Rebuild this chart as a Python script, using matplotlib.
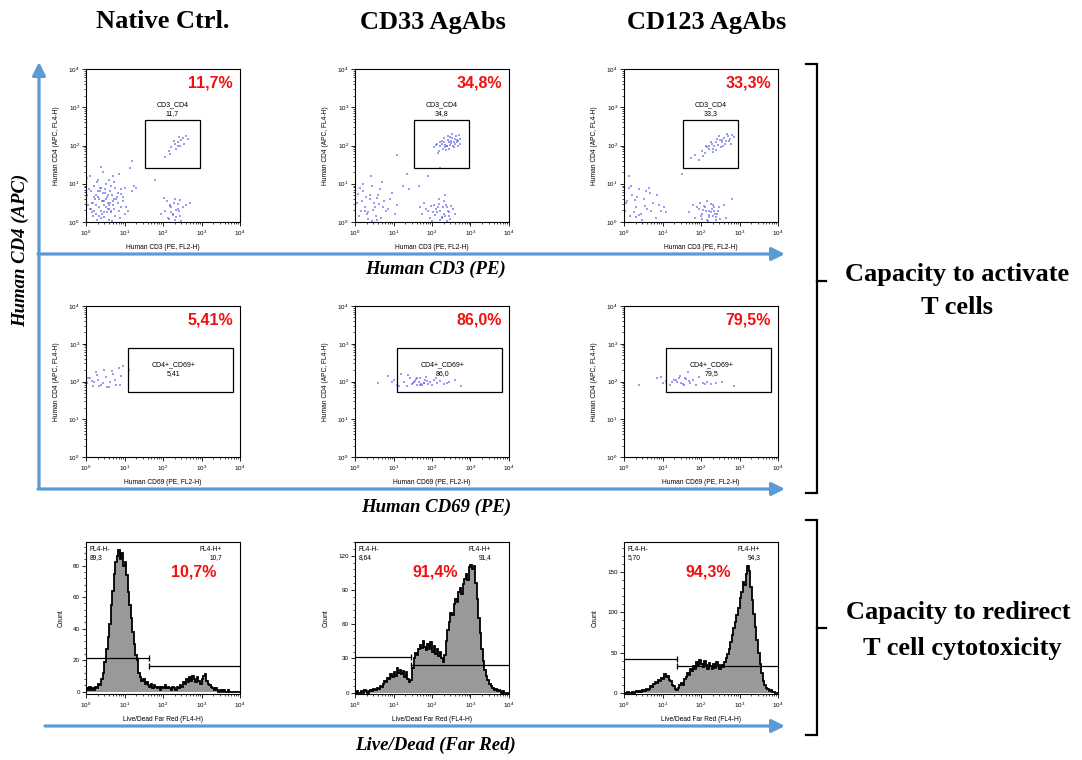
import numpy as np
import matplotlib.pyplot as plt
from matplotlib.patches import Rectangle
from matplotlib.ticker import (FixedLocator, FixedFormatter, LogLocator,
                               NullFormatter, AutoMinorLocator)

plt.rcParams['font.family'] = ['Liberation Sans', 'DejaVu Sans']
plt.rcParams['mathtext.fontset'] = 'custom'
plt.rcParams['mathtext.rm'] = 'Liberation Sans'

# ---------------- data ----------------
conditions = ["Native Ctrl.", "CD33 AgAbs", "CD123 AgAbs"]

# row 1: CD3 (x) vs CD4 (y) events, log10 units
native_cd3 = [0.05, 0.12, 0.20, 0.28, 0.35, 0.42, 0.50, 0.58, 0.65, 0.72,
              0.80, 0.88, 0.95, 1.05, 0.10, 0.18, 0.25, 0.33, 0.40, 0.48,
              0.55, 0.62, 0.70, 0.78, 0.85, 0.92, 1.00, 0.15, 0.22, 0.30,
              0.38, 0.45, 0.52, 0.60, 0.68, 0.75, 0.83, 0.90, 0.08, 0.16,
              0.24, 0.32, 0.39, 0.47, 0.54, 0.61, 0.69, 0.76, 0.03, 0.11,
              0.19, 0.27, 0.36, 0.44, 0.51, 0.57, 0.64, 0.73, 0.82, 1.10,
              0.26, 0.34, 0.41, 0.49, 0.56, 0.63, 0.71, 0.21, 0.29, 0.37,
              0.46, 0.53, 0.59, 0.66, 0.74, 0.43, 0.31, 1.25, 1.15, 0.95,
              0.02, 0.85, 1.20, 0.60, 0.40, 0.14, 0.67, 0.90, 1.02, 0.48,
              2.05, 2.12, 2.18, 2.25, 2.32, 2.38, 2.45, 2.52, 2.10, 2.20,
              2.28, 2.35, 2.42, 2.15, 2.22, 2.30, 2.40, 2.48, 1.95, 2.60,
              2.02, 2.33, 2.26, 2.44, 2.17,
              2.05, 2.15, 2.22, 2.30, 2.38, 2.45, 2.52, 2.60, 2.35, 2.48,
              2.55, 2.28, 2.42, 2.18, 2.65, 2.40,
              1.30, 1.20, 2.70, 1.80]
native_cd4 = [0.45, 0.80, 0.30, 1.05, 0.60, 0.20, 0.75, 0.50, 0.95, 0.35,
              0.65, 0.10, 0.55, 0.40, 1.20, 0.15, 0.70, 0.40, 0.90, 0.55,
              0.25, 0.80, 0.45, 0.60, 0.30, 0.85, 0.20, 0.50, 0.95, 0.65,
              0.10, 0.75, 1.00, 0.35, 0.70, 0.15, 0.50, 0.40, 0.85, 0.25,
              0.60, 1.10, 0.30, 0.45, 0.65, 0.05, 0.55, 0.90, 0.70, 0.35,
              0.50, 0.20, 0.80, 1.30, 0.40, 0.70, 0.25, 0.60, 0.75, 0.30,
              0.45, 0.15, 0.55, 0.85, 0.35, 0.50, 1.20, 0.65, 0.05, 0.90,
              0.25, 0.60, 0.45, 0.30, 1.05, 0.55, 0.80, 0.95, 1.40, 0.65,
              1.15, 1.25, 0.80, 1.10, 1.45, 0.35, 0.02, 0.72, 0.88, 0.12,
              0.30, 0.10, 0.45, 0.20, 0.05, 0.35, 0.15, 0.40, 0.55, 0.25,
              0.50, 0.12, 0.28, 0.08, 0.38, 0.60, 0.48, 0.02, 0.22, 0.45,
              0.62, 0.32, 0.18, 0.58, 0.42,
              1.70, 1.85, 1.95, 2.05, 2.10, 2.00, 2.20, 2.25, 1.90, 2.15,
              2.05, 2.12, 2.22, 1.78, 2.18, 1.98,
              0.90, 1.60, 0.50, 1.10]

cd33_cd3 = [0.05, 0.15, 0.22, 0.30, 0.38, 0.45, 0.52, 0.60, 0.68, 0.75,
            0.85, 0.95, 1.10, 0.10, 0.20, 0.28, 0.35, 0.42, 0.50, 0.58,
            0.65, 0.80, 0.90, 1.05, 0.12, 0.25, 0.40, 0.55, 0.70, 0.18,
            0.33, 0.48, 0.62, 1.25, 1.35, 0.08, 0.44, 0.72, 0.27, 0.58,
            1.75, 1.85, 1.95, 2.05, 2.12, 2.20, 2.28, 2.35, 2.42, 2.50,
            1.90, 2.00, 2.10, 2.18, 2.25, 2.32, 2.40, 2.48, 2.55, 1.80,
            2.08, 2.15, 2.22, 2.30, 2.38, 2.45, 1.98, 2.27, 2.36, 2.02,
            2.19, 2.43, 1.70, 2.60, 2.33,
            2.05, 2.12, 2.18, 2.22, 2.28, 2.32, 2.38, 2.42, 2.48, 2.52,
            2.58, 2.62, 2.68, 2.72, 2.25, 2.35, 2.45, 2.55, 2.65, 2.15,
            2.30, 2.40, 2.50, 2.60, 2.70, 2.20, 2.36, 2.46, 2.56, 2.64,
            2.10, 2.27, 2.44, 2.53, 2.74, 2.33, 2.49, 2.59, 2.41, 2.67,
            1.10, 1.90, 1.40, 2.20, 1.65]
cd33_cd4 = [0.50, 0.30, 0.80, 0.20, 0.60, 0.95, 0.40, 0.70, 0.10, 0.55,
            0.35, 0.75, 0.45, 0.15, 1.00, 0.65, 0.25, 1.20, 0.50, 0.05,
            0.85, 0.30, 0.60, 0.20, 0.90, 0.40, 0.70, 0.15, 1.05, 0.55,
            0.08, 0.32, 0.48, 0.95, 1.25, 0.72, 0.02, 0.38, 0.28, 0.62,
            0.20, 0.35, 0.10, 0.45, 0.25, 0.05, 0.38, 0.15, 0.30, 0.42,
            0.28, 0.02, 0.33, 0.48, 0.12, 0.22, 0.40, 0.08, 0.35, 0.50,
            0.18, 0.40, 0.30, 0.55, 0.03, 0.25, 0.42, 0.10, 0.45, 0.26,
            0.60, 0.15, 0.38, 0.22, 0.70,
            1.95, 2.05, 1.85, 2.00, 1.90, 2.10, 1.98, 2.15, 2.02, 2.20,
            2.08, 2.25, 2.12, 2.18, 2.05, 1.95, 2.10, 2.00, 2.15, 1.80,
            2.20, 2.00, 2.12, 2.05, 2.28, 2.08, 1.88, 2.22, 1.97, 2.10,
            2.02, 2.12, 1.92, 2.30, 2.05, 2.02, 2.06, 2.16, 2.24, 1.98,
            1.75, 1.20, 0.85, 1.40, 0.95]

cd123_cd3 = [0.02, 0.08, 0.15, 0.22, 0.30, 0.38, 0.45, 0.52, 0.60, 0.68,
             0.75, 0.82, 0.90, 0.12, 0.25, 0.35, 0.48, 0.58, 0.70, 0.05,
             0.18, 0.40, 0.55, 0.65, 0.28, 0.85, 0.95, 1.05, 0.32, 0.14,
             1.70, 1.85, 1.95, 2.02, 2.08, 2.15, 2.20, 2.25, 2.30, 2.35,
             2.42, 2.50, 2.60, 1.90, 2.00, 2.12, 2.18, 2.28, 2.38, 2.45,
             1.98, 2.05, 2.22, 2.32, 2.40, 2.10, 2.26, 2.16, 2.36, 2.65,
             1.80, 2.48, 2.03, 2.20, 2.33,
             1.75, 1.85, 1.95, 2.02, 2.10, 2.15, 2.22, 2.28, 2.35, 2.40,
             2.45, 2.50, 2.55, 2.60, 2.65, 2.70, 2.75, 2.80, 2.85, 2.20,
             2.32, 2.42, 2.52, 2.62, 2.72, 2.05, 2.25, 2.48, 2.58, 2.38,
             2.68, 2.12, 2.30, 2.55, 2.78,
             1.50, 2.80, 1.10]
cd123_cd4 = [0.30, 0.55, 0.15, 0.70, 0.40, 0.85, 0.20, 0.60, 0.35, 0.75,
             0.50, 0.10, 0.45, 0.90, 0.25, 0.65, 0.05, 0.80, 0.30, 0.50,
             0.95, 0.18, 0.42, 0.88, 0.58, 0.70, 0.28, 0.38, 0.12, 1.20,
             0.25, 0.10, 0.35, 0.20, 0.42, 0.05, 0.30, 0.48, 0.15, 0.38,
             0.22, 0.08, 0.45, 0.40, 0.15, 0.28, 0.02, 0.35, 0.12, 0.30,
             0.50, 0.32, 0.18, 0.45, 0.05, 0.40, 0.25, 0.55, 0.22, 0.10,
             0.45, 0.38, 0.08, 0.12, 0.30,
             1.68, 1.75, 1.62, 1.85, 1.80, 1.95, 1.90, 2.05, 1.98, 2.10,
             2.02, 2.15, 2.08, 2.20, 2.12, 2.25, 2.18, 2.28, 2.22, 2.00,
             1.92, 2.18, 1.95, 2.05, 2.12, 1.72, 2.10, 2.24, 2.00, 1.88,
             2.30, 1.98, 1.82, 2.15, 2.05,
             1.25, 0.60, 0.25]

# row 2: CD69 (x) vs CD4 (y) events, log10 units
native_cd69 = [0.02, 0.10, 0.18, 0.25, 0.32, 0.40, 0.48, 0.55, 0.62, 0.70,
               0.78, 0.85, 0.92, 0.15, 0.35, 0.52, 0.68, 0.88, 0.05, 0.28,
               0.45, 0.60, 0.75, 0.95, 0.22, 1.12]
native_cd4b = [1.95, 2.10, 1.88, 2.25, 2.05, 1.90, 2.30, 1.85, 2.00, 2.20,
               1.92, 2.35, 2.15, 2.02, 1.87, 2.12, 2.28, 1.90, 2.08, 2.18,
               1.95, 1.86, 2.05, 2.40, 1.98, 2.30]
cd33_cd69 = [0.60, 0.85, 1.00, 1.10, 1.20, 1.28, 1.35, 1.42, 1.50, 1.55,
             1.60, 1.65, 1.70, 1.75, 1.80, 1.85, 1.90, 1.95, 2.00, 2.05,
             2.12, 2.20, 2.30, 2.45, 2.60, 2.75, 1.48, 1.58, 1.68, 1.78,
             1.88, 1.38, 1.72, 1.62, 2.10, 0.95, 1.15, 1.52, 1.83, 2.38]
cd33_cd4b = [1.95, 2.15, 2.05, 1.92, 2.20, 2.00, 1.88, 2.10, 1.95, 2.02,
             1.90, 1.98, 2.08, 1.92, 1.96, 2.12, 1.94, 2.00, 1.91, 2.05,
             1.97, 2.02, 1.93, 1.99, 2.05, 1.88, 1.93, 2.06, 1.90, 1.96,
             2.01, 2.18, 1.94, 2.10, 2.08, 1.98, 1.89, 1.99, 2.04, 1.95]
cd123_cd69 = [0.40, 0.85, 0.95, 1.02, 1.10, 1.20, 1.30, 1.38, 1.45, 1.52,
              1.58, 1.65, 1.72, 1.80, 1.88, 1.95, 2.05, 2.15, 2.25, 2.40,
              2.55, 2.85, 1.25, 1.48, 1.62, 1.70, 1.42, 1.55, 2.10, 1.35]
cd123_cd4b = [1.92, 2.10, 2.12, 1.95, 2.02, 1.90, 2.05, 1.98, 2.15, 1.93,
              2.08, 2.25, 1.96, 2.03, 1.91, 2.12, 1.97, 2.00, 1.94, 1.96,
              2.00, 1.88, 1.99, 1.95, 2.06, 2.01, 2.09, 1.92, 1.93, 2.04]

# row 3: Live/Dead Far Red histograms, 25 bins per decade from 10^0 to 10^4
native_counts = [2, 1, 3, 1, 2, 1, 3, 2, 5, 4,
                 8, 12, 19, 27, 35, 43, 55, 64, 75, 82,
                 86, 90, 84, 88, 80, 82, 74, 63, 55, 47,
                 38, 30, 23, 20, 12, 9, 7, 8, 5, 6,
                 4, 3, 5, 2, 4, 3, 2, 3, 1, 3,
                 2, 4, 2, 3, 2, 1, 3, 2, 1, 3,
                 2, 4, 3, 6, 5, 8, 6, 9, 7, 10,
                 8, 6, 9, 7, 5, 8, 10, 11, 7, 5,
                 4, 3, 2, 1, 2, 1, 0, 1, 0, 1,
                 0, 0, 1, 0, 0, 0, 0, 0, 0, 0]
cd33_counts = [0, 1, 0, 0, 1, 0, 2, 1, 0, 1,
               2, 1, 3, 2, 4, 3, 6, 5, 8, 10,
               9, 13, 12, 16, 14, 18, 15, 22, 17, 20,
               16, 19, 14, 18, 12, 9, 11, 22, 30, 35,
               33, 38, 42, 39, 45, 40, 37, 43, 38, 44,
               36, 41, 34, 38, 32, 36, 30, 27, 33, 45,
               55, 62, 70, 68, 78, 82, 79, 88, 92, 86,
               95, 100, 104, 99, 110, 112, 108, 111, 96, 82,
               65, 52, 38, 28, 20, 15, 11, 8, 6, 4,
               2, 3, 1, 2, 1, 0, 1, 0, 0, 0]
cd123_counts = [0, 0, 1, 0, 0, 1, 0, 1, 2, 1,
                2, 1, 3, 2, 4, 3, 5, 8, 7, 11,
                13, 12, 16, 14, 18, 17, 23, 19, 21, 16,
                14, 10, 8, 5, 3, 6, 9, 12, 10, 17,
                19, 24, 22, 29, 27, 33, 30, 38, 34, 41,
                36, 32, 39, 35, 30, 37, 33, 29, 36, 31,
                38, 34, 29, 35, 32, 38, 43, 48, 55, 63,
                72, 80, 88, 97, 105, 118, 126, 138, 134, 148,
                158, 152, 132, 115, 98, 82, 66, 50, 36, 24,
                15, 9, 6, 4, 2, 3, 1, 1, 0, 0]
hist_counts = [native_counts, cd33_counts, cd123_counts]

# gate statistics
pct_cd3_cd4 = ["11,7", "34,8", "33,3"]
pct_cd4_cd69 = ["5,41", "86,0", "79,5"]
pct_fl4_neg = ["89,3", "8,64", "5,70"]
pct_fl4_pos = ["10,7", "91,4", "94,3"]
gate_cd3_x, gate_cd3_y = (34, 940), (26, 465)
gate_cd69_x, gate_cd69_y = (12.6, 6700), (52, 750)
fl4_split = [44, 28, 23.4]
fl4_neg_level = [21.4, 31.2, 41.4]
fl4_pos_level = [16.5, 24.6, 33.2]
hist_yticks = [[0, 20, 40, 60, 80], [0, 30, 60, 90, 120], [0, 50, 100, 150]]
hist_ylim = [(-1.5, 95), (-1.2, 132), (-1.8, 188)]

row1 = [(native_cd3, native_cd4), (cd33_cd3, cd33_cd4), (cd123_cd3, cd123_cd4)]
row2 = [(native_cd69, native_cd4b), (cd33_cd69, cd33_cd4b), (cd123_cd69, cd123_cd4b)]

# ---------------- layout ----------------
W, H = 1082, 760
fig = plt.figure(figsize=(W / 100, H / 100), dpi=100)

ov = fig.add_axes([0, 0, 1, 1])
ov.set_xlim(0, W)
ov.set_ylim(H, 0)
ov.axis('off')


def box(left, top, w, h):
    return [left / W, 1 - (top + h) / H, w / W, h / H]


col_left = [86, 355, 624]
row_top = [69, 306, 542]
pw, ph = 154, 153
red = '#ee1111'
serif = ['Liberation Serif', 'DejaVu Serif']
dot_color = '#5a5ae6'
log_labels = ['$10^{0}$', '$10^{1}$', '$10^{2}$', '$10^{3}$', '$10^{4}$']


def log_axis(axis):
    axis.set_major_locator(FixedLocator([1, 10, 100, 1000, 10000]))
    axis.set_major_formatter(FixedFormatter(log_labels))
    axis.set_minor_locator(LogLocator(base=10, subs=np.arange(2, 10), numticks=20))
    axis.set_minor_formatter(NullFormatter())


def style(ax):
    for sp in ax.spines.values():
        sp.set_linewidth(0.8)
    ax.tick_params(which='major', length=3, width=0.6, labelsize=4.5, pad=1.5)
    ax.tick_params(which='minor', length=1.6, width=0.5)


def scatter_panel(ax, xs, ys, gx, gy, gate_name, pct, xlabel, label_xy):
    ax.set_xscale('log')
    ax.set_yscale('log')
    ax.scatter(10 ** np.array(xs), 10 ** np.array(ys), s=1.1, color=dot_color,
               lw=0, alpha=0.6, marker='s')
    ax.set_xlim(1, 1e4)
    ax.set_ylim(1, 1e4)
    log_axis(ax.xaxis)
    log_axis(ax.yaxis)
    style(ax)
    ax.add_patch(Rectangle((gx[0], gy[0]), gx[1] - gx[0], gy[1] - gy[0],
                           fill=False, ec='black', lw=0.9))
    ax.text(label_xy[0], label_xy[1], f"{gate_name}\n{pct}", fontsize=5,
            ha='center', va='center', linespacing=1.4)
    ax.text(0.955, 0.91, f"{pct}%", transform=ax.transAxes, ha='right',
            va='center', color=red, fontsize=11.5, fontweight='bold')
    ax.set_xlabel(xlabel, fontsize=4.8, labelpad=5)
    ax.set_ylabel("Human CD4 (APC, FL4-H)", fontsize=4.8, labelpad=6)


for i in range(3):
    ax = fig.add_axes(box(col_left[i], row_top[0], pw, ph))
    scatter_panel(ax, row1[i][0], row1[i][1], gate_cd3_x, gate_cd3_y,
                  "CD3_CD4", pct_cd3_cd4[i], "Human CD3 (PE, FL2-H)", (175, 900))
    ax = fig.add_axes(box(col_left[i], row_top[1], pw, ph - 2))
    scatter_panel(ax, row2[i][0], row2[i][1], gate_cd69_x, gate_cd69_y,
                  "CD4+_CD69+", pct_cd4_cd69[i], "Human CD69 (PE, FL2-H)", (190, 210))

pct_x = [0.70, 0.52, 0.545]
edges = 10 ** np.linspace(0, 4, 101)
for i in range(3):
    ax = fig.add_axes(box(col_left[i], row_top[2], pw, ph - 1))
    ax.set_xscale('log')
    counts = hist_counts[i]
    ax.stairs(counts, edges, fill=True, color='#999999', lw=0)
    ax.stairs(counts, edges, color='black', lw=1.3)
    ax.set_xlim(1, 1e4)
    ax.set_ylim(*hist_ylim[i])
    log_axis(ax.xaxis)
    ax.yaxis.set_major_locator(FixedLocator(hist_yticks[i]))
    ax.yaxis.set_minor_locator(AutoMinorLocator(5))
    style(ax)
    # gates
    xb = fl4_split[i]
    ax.plot([1, xb], [fl4_neg_level[i]] * 2, color='black', lw=0.9)
    ax.plot([xb, 1e4], [fl4_pos_level[i]] * 2, color='black', lw=0.9)
    ax.plot([xb], [fl4_neg_level[i]], marker='|', ms=5, mew=0.9, color='black')
    ax.plot([xb], [fl4_pos_level[i]], marker='|', ms=5, mew=0.9, color='black')
    ax.text(0.025, 0.975, f"FL4-H-\n{pct_fl4_neg[i]}", transform=ax.transAxes,
            fontsize=4.8, ha='left', va='top', linespacing=1.3)
    ax.text(0.885, 0.975, f"FL4-H+\n{pct_fl4_pos[i]}", transform=ax.transAxes,
            fontsize=4.8, ha='right', va='top', multialignment='right',
            linespacing=1.3)
    ax.text(pct_x[i], 0.80, f"{pct_fl4_pos[i]}%", transform=ax.transAxes,
            ha='center', va='center', color=red, fontsize=11.5, fontweight='bold')
    ax.set_xlabel("Live/Dead Far Red (FL4-H)", fontsize=4.8, labelpad=5)
    ax.set_ylabel("Count", fontsize=4.8, labelpad=6)

# ---------------- annotations ----------------
blue = '#5b9bd5'


def arrow(x0, y0, x1, y1):
    ov.annotate('', xy=(x1, y1), xytext=(x0, y0), xycoords='data',
                arrowprops=dict(arrowstyle='-|>,head_length=0.6,head_width=0.3',
                                color=blue, lw=2.3, shrinkA=0, shrinkB=0,
                                mutation_scale=13))


arrow(39, 488, 39, 62)
arrow(38, 254, 785, 254)
arrow(38, 489, 785, 489)
arrow(45, 726, 785, 726)

col_centers = [163, 433, 707]
for c, name in zip(col_centers, conditions):
    ov.text(c, 22, name, ha='center', va='center', fontsize=19,
            fontweight='bold', family=serif)

axis_font = dict(ha='center', va='center', fontsize=13.5, fontweight='bold',
                 style='italic', family=serif)
ov.text(436, 269, "Human CD3 (PE)", **axis_font)
ov.text(436, 507, "Human CD69 (PE)", **axis_font)
ov.text(436, 745, "Live/Dead (Far Red)", **axis_font)
ov.text(20, 250, "Human CD4 (APC)", rotation=90, **axis_font)


def bracket(top, bottom, mid):
    ov.plot([806, 817, 817, 806], [top, top, bottom, bottom], color='black',
            lw=1.6, solid_joinstyle='miter')
    ov.plot([817, 826], [mid, mid], color='black', lw=1.6)


bracket(64, 493, 281)
bracket(520, 735, 628)

side_font = dict(ha='center', va='center', fontsize=19, fontweight='bold',
                 family=serif)
ov.text(957, 274, "Capacity to activate", **side_font)
ov.text(957, 307, "T cells", **side_font)
ov.text(958, 613, "Capacity to redirect", **side_font)
ov.text(962, 648, "T cell cytotoxicity", **side_font)

fig.savefig("out.png", dpi=100)
